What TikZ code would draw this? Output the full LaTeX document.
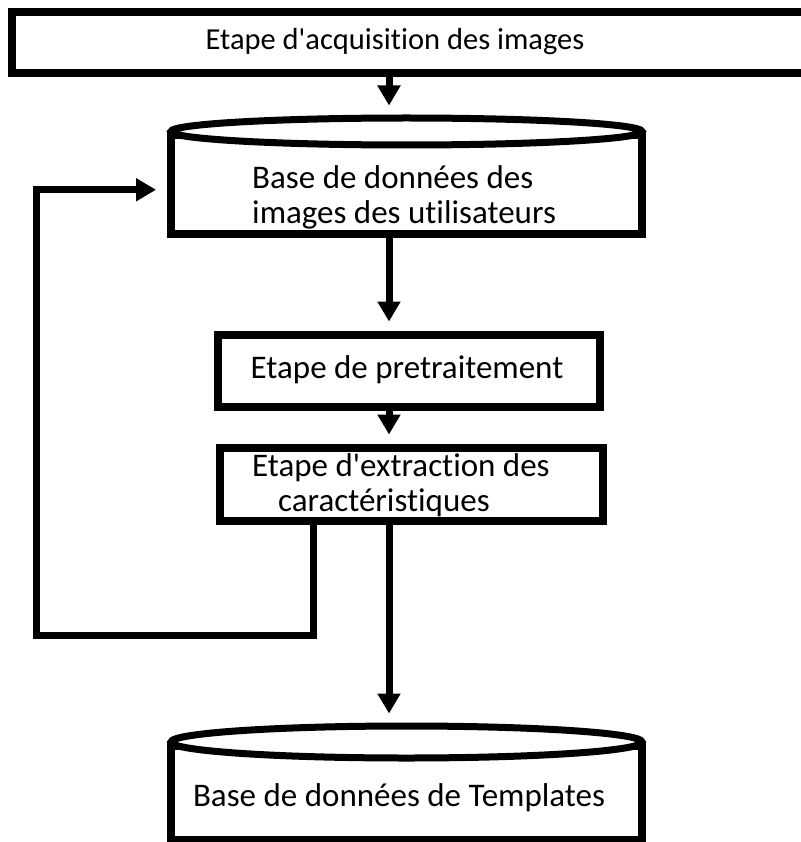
\documentclass[tikz,border=0pt]{standalone}
\usepackage{fontspec}
\setmainfont{Carlito}[Ligatures=NoCommon]
\usetikzlibrary{arrows.meta, shapes.geometric}
\tikzset{
  stagebox/.style={draw, line width=8pt, rectangle, inner sep=0pt},
  dbbody/.style={draw, line width=8pt, rectangle, inner sep=0pt, minimum width=471pt},
  dbtop/.style={draw, line width=7pt, ellipse, fill=white, inner sep=0pt, minimum width=471pt},
  lbl/.style={font=\fontsize{33}{35}\selectfont, inner sep=0pt},
  flow/.style={line width=7pt, -{Triangle[width=22pt,length=20pt]}, shorten >=9pt}
}

\begin{document}
\begin{tikzpicture}[x=1pt, y=-1pt]
    \useasboundingbox (0,0) rectangle (800,842);
    % Stages
    \node[stagebox, minimum width=800pt, minimum height=61pt] (acq) at (412,42.5) {};
    \node[lbl, font=\fontsize{30.5}{35}\selectfont] (acqtxt) at (395,42) {Etape d\textquotesingle acquisition des images};
    \node[dbbody, minimum height=98.5pt] (dbimg) at (406.5,184.75) {};
    \node[dbtop, minimum height=27pt] (dbimgtop) at (dbimg.north) {};
    \node[lbl, align=left, anchor=west] (dbimgtxt) at (252,197) {Base de données des\\images des utilisateurs};
    \node[stagebox, minimum width=382pt, minimum height=72.5pt] (pre) at (409,370.75) {};
    \node[lbl] (pretxt) at (407,370) {Etape de pretraitement};
    \node[stagebox, minimum width=383pt, minimum height=73pt] (ext) at (411.5,484) {};
    \node[lbl, align=left, anchor=west] (exttxt) at (252,485) {Etape d\textquotesingle extraction des\\\hspace*{26pt}caractéristiques};
    \node[dbbody, minimum height=94pt] (dbtpl) at (406.5,793) {};
    \node[dbtop, minimum height=32pt] (dbtpltop) at (dbtpl.north) {};
    \node[lbl] (dbtpltxt) at (399,798) {Base de données de Templates};
    % Flow
    \coordinate (spine) at (389,0);
    \coordinate (fbx) at (313,0);
    \coordinate (loopl) at (36,635.5);
    \draw[flow] (acq.south -| spine) -- (dbimgtop.north -| spine);
    \draw[flow] (dbimg.south -| spine) -- (pre.north -| spine);
    \draw[flow] (pre.south -| spine) -- (ext.north -| spine);
    \draw[flow] (ext.south -| spine) -- (dbtpltop.north -| spine);
    % Feedback loop
    \draw[flow, shorten >=11pt] (ext.south -| fbx) |- (loopl) |- ([yshift=-5pt]dbimg.west);
\end{tikzpicture}
\end{document}
